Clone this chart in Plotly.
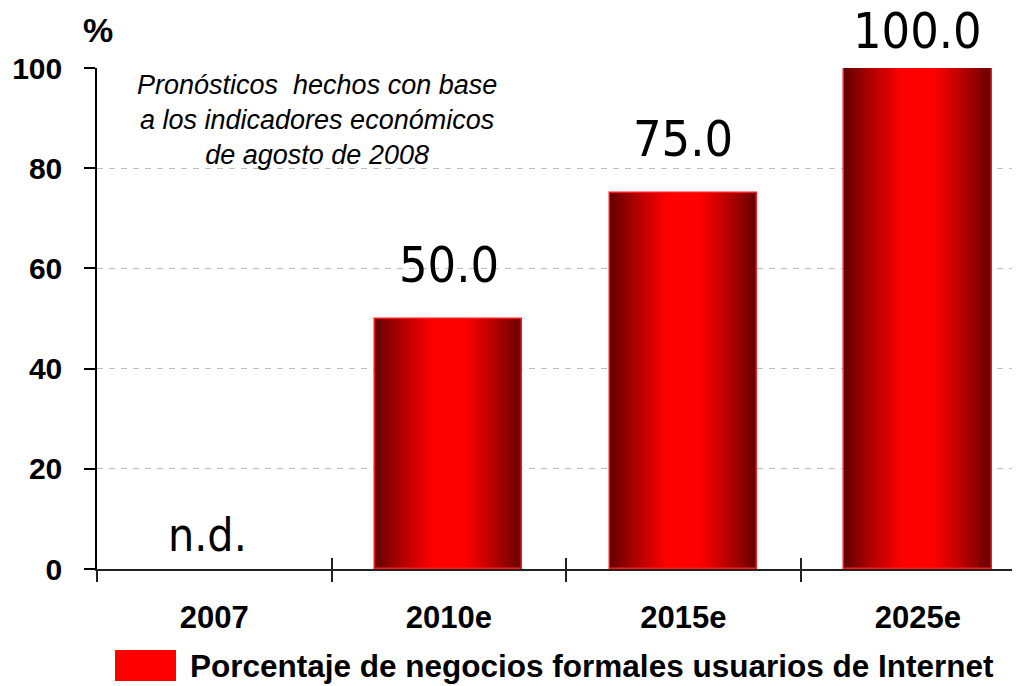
import plotly.graph_objects as go

# ---- data ----
categories = ["2007", "2010e", "2015e", "2025e"]
values = [None, 50.0, 75.0, 100.0]
value_labels = ["n.d.", "50.0", "75.0", "100.0"]
label_shift = [5, 23, 23, 6]
series_name = "Porcentaje de negocios formales usuarios de Internet"
note_text = "Pronósticos  hechos con base<br>a los indicadores económicos<br>de agosto de 2008"
y_ticks = [0, 20, 40, 60, 80, 100]

BAR_W = 0.627
DARK = (104, 0, 0)
RED = (255, 0, 0)
NUMFONT = "DejaVu Sans Condensed, Liberation Sans Narrow, Liberation Sans, sans-serif"
SANS = "Liberation Sans, Arial, sans-serif"

def mix(t):
    r = [round(RED[i] * (1 - t) + DARK[i] * t) for i in range(3)]
    return f"rgb({r[0]},{r[1]},{r[2]})"

fig = go.Figure()

N = 24
for k in range(N):
    d = 1 - k / N * 0.8           # width fraction of this layer
    t = max(0.0, (d - 0.22) / 0.78)
    t = t ** 1.1
    fig.add_trace(go.Bar(
        x=categories, y=values, width=BAR_W * d,
        marker=dict(color=mix(t), line=dict(width=0)),
        showlegend=False, hoverinfo="skip",
    ))
# outline
fig.add_trace(go.Bar(
    x=categories, y=values, width=BAR_W,
    marker=dict(color="rgba(0,0,0,0)", line=dict(color="#ff1a1a", width=1.5)),
    showlegend=False, hovertemplate="%{x}: %{y}<extra></extra>",
))
# dummy trace to register categories on the crossing-tick axis
fig.add_trace(go.Scatter(x=categories, y=[None] * len(categories), xaxis="x2",
                         showlegend=False, hoverinfo="skip"))

annotations = []
for i, (v, lab) in enumerate(zip(values, value_labels)):
    if v is None:
        annotations.append(dict(x=i, y=0, xref="x", yref="y", text=lab,
                                showarrow=False, yanchor="bottom", yshift=label_shift[i],
                                xshift=-7,
                                font=dict(family=NUMFONT, size=46, color="black")))
    else:
        annotations.append(dict(x=i, y=v, xref="x", yref="y", text=lab,
                                showarrow=False, yanchor="bottom", yshift=label_shift[i],
                                font=dict(family=NUMFONT, size=50, color="black")))

annotations.append(dict(x=0.238, y=1.0, xref="paper", yref="paper", text=note_text,
                        showarrow=False, xanchor="center", yanchor="top",
                        font=dict(family=SANS, size=27, color="black", style="italic")))
annotations.append(dict(x=0.001, y=1.075, xref="paper", yref="paper", text="%",
                        showarrow=False, xanchor="center", yanchor="middle",
                        font=dict(family=SANS, size=34, color="black", weight="bold")))
annotations.append(dict(x=0.0986, y=-0.1936, xref="paper", yref="paper", text=series_name,
                        showarrow=False, xanchor="left", yanchor="middle",
                        font=dict(family=SANS, size=31.5, color="black", weight="bold")))

shapes = [dict(type="rect", xref="paper", yref="paper",
               x0=0.0195, x1=0.0856, y0=-0.2236, y1=-0.1617,
               fillcolor="#ff0000", line=dict(width=0))]

fig.update_layout(
    width=1012, height=678,
    margin=dict(l=89, r=0, t=60, b=117, autoexpand=False),
    paper_bgcolor="white", plot_bgcolor="white",
    barmode="overlay", bargap=0,
    showlegend=False,
    annotations=annotations, shapes=shapes,
    xaxis=dict(type="category", categoryorder="array", categoryarray=categories,
               range=[-0.5, 3.435], showgrid=False, showline=True, automargin=False,
               linecolor="#222222", linewidth=2,
               ticks="outside", ticklen=11, tickwidth=1.5, tickcolor="#222222",
               tickson="boundaries", ticklabelstandoff=20,
               tickfont=dict(family=SANS, size=31, color="black", weight="bold")),
    xaxis2=dict(type="category", categoryorder="array", categoryarray=categories,
                overlaying="x", anchor="y", side="bottom", automargin=False,
                range=[-0.5, 3.435], showgrid=False, showline=False,
                ticks="inside", ticklen=11, tickwidth=1.5, tickcolor="#222222",
                tickson="boundaries", showticklabels=False),
    yaxis=dict(range=[0, 100], tickvals=y_ticks, showgrid=True, automargin=False,
               gridcolor="#bdbdbd", gridwidth=1, griddash="6px,6px",
               zeroline=False, showline=True, linecolor="black", linewidth=1.5,
               ticks="outside", ticklen=11, tickwidth=1.5, tickcolor="black",
               ticklabelstandoff=16,
               tickfont=dict(family=SANS, size=30, color="black", weight="bold")),
    yaxis2=dict(range=[0, 100], tickvals=y_ticks, overlaying="y", side="left",
                anchor="x", showgrid=False, zeroline=False, showline=False,
                automargin=False,
                ticks="inside", ticklen=11, tickwidth=1.5, tickcolor="black",
                showticklabels=False),
)

fig.write_html("out.html")
